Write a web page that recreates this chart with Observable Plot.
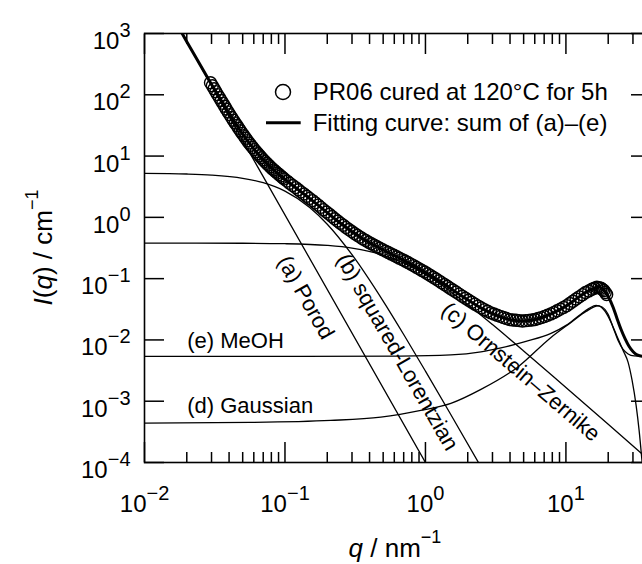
<!DOCTYPE html>
<html><head><meta charset="utf-8">
<script src="https://cdn.jsdelivr.net/npm/d3@7"></script>
<script src="https://cdn.jsdelivr.net/npm/@observablehq/plot@0.6"></script>
<style>
html,body{margin:0;padding:0;overflow:hidden;background:#fff;}
svg{max-width:none!important;display:block;}
</style></head><body>
<div id="chart"></div>
<script>
// ---- data (q in nm^-1, I in cm^-1) ----
const dataQ = [0.0295,0.0304,0.0313,0.0322,0.0331,0.0341,0.0351,0.0361,0.0372,0.0382,0.0394,0.0405,0.0417,0.0429,0.0442,0.0455,0.0468,0.0481,0.0495,0.0510,0.0525,0.0540,0.0556,0.0572,0.0589,0.0606,0.0624,0.0642,0.0661,0.0680,0.0700,0.0720,0.0741,0.0763,0.0785,0.0808,0.0832,0.0856,0.0881,0.0907,0.0933,0.0961,0.0989,0.1035,
  0.108,0.1135,0.119,0.1245,0.130,0.1365,0.143,0.1496,0.157,0.1641,0.172,0.1799,0.188,0.1972,0.207,0.2163,0.226,0.2371,0.248,0.2600,0.272,0.2851,0.299,0.3126,0.327,0.3428,0.359,0.3758,0.394,0.4121,0.432,0.4519,0.473,0.4955,0.519,0.5433,0.569,0.5957,0.624,0.6531,0.684,0.7161,0.750,0.7852,0.822,0.8610,0.902,0.9441,0.989,1.035,1.084,1.135,1.189,1.245,1.303,1.365,1.429,1.496,1.567,1.650,
  1.738,1.830,1.928,2.030,2.138,2.252,2.371,2.498,2.630,2.771,2.917,3.073,3.236,3.407,3.589,3.780,3.981,4.193,4.416,4.651,4.898,5.158,5.433,5.722,6.026,6.346,6.683,7.039,7.413,7.807,8.222,8.660,9.120,9.605,10.12,10.65,11.22,11.82,12.45,13.11,13.80,14.54,15.31,15.94,16.60,17.18,17.78,18.20,18.62,19.05,19.50];
const dataI = [157.1,140.5,125.6,112.4,100.6,90.13,80.75,72.49,65.08,58.48,52.54,47.37,42.70,38.53,34.76,31.49,28.52,25.88,23.49,21.42,19.53,17.85,16.32,15.00,13.78,12.74,11.78,10.91,10.12,9.377,8.694,8.140,7.625,7.139,6.686,6.294,5.925,5.589,5.272,4.990,4.719,4.473,4.240,3.906,
  3.601,3.319,3.061,2.822,2.604,2.401,2.214,2.038,1.877,1.725,1.585,1.455,1.335,1.226,1.125,1.034,0.9502,0.8732,0.8022,0.7416,0.6855,0.6339,0.5864,0.5465,0.5096,0.4763,0.4452,0.4183,0.3930,0.3713,0.3509,0.3318,0.3138,0.2972,0.2814,0.2670,0.2533,0.2402,0.2278,0.2159,0.2046,0.1936,0.1831,0.1728,0.1632,0.1536,0.1445,0.1360,0.1280,0.1200,0.1124,0.1053,0.09865,0.09212,0.08602,0.08027,0.07494,0.06995,0.06531,0.06043,
  0.05591,0.05173,0.04787,0.04443,0.04124,0.03834,0.03565,0.03335,0.03120,0.02939,0.02767,0.02644,0.02526,0.02425,0.02329,0.02236,0.02148,0.02119,0.02091,0.02065,0.02040,0.02062,0.02084,0.02120,0.02156,0.02234,0.02315,0.02416,0.02522,0.02659,0.02802,0.02985,0.03180,0.03396,0.03626,0.03939,0.04281,0.04651,0.05050,0.05480,0.05948,0.06310,0.06696,0.06966,0.07246,0.07107,0.06970,0.06679,0.06400,0.05947,0.05525];

const fitCurve = [[0.0185,1006.5],[0.02,736.4],[0.022,502.7],[0.025,302.2],[0.028,193.0],[0.03,147.3],[0.033,101.9],[0.036,73.14],[0.04,49.46],[0.045,32.49],[0.05,22.77],[0.055,16.83],[0.06,13.04],[0.07,8.685],[0.08,6.409],[0.09,5.051],[0.1,4.150],[0.12,3.009],[0.14,2.297],[0.16,1.807],[0.18,1.454],[0.2,1.194],[0.25,0.7924],[0.3,0.5814],[0.35,0.4605],[0.4,0.3845],[0.5,0.2935],[0.6,0.2383],[0.7,0.1991],[0.8,0.1691],[1,0.1261],[1.2,0.0973],[1.5,0.0697],[2,0.0453],[2.5,0.0331],[3,0.0268],[4,0.0214],[5,0.0203],[6,0.0215],[7,0.0239],[8,0.0271],[10,0.0356],[12,0.0477],[14,0.0608],[16,0.0702],[17,0.0740],[18.4,0.0667],[20,0.0513],[21.7,0.0339],[23.1,0.0224],[24.7,0.0148],[26.4,0.0104],[28.2,0.0078],[30.1,0.0064],[32.1,0.0057],[35.4,0.0054],[40,0.0054]];
const porod = [[0.0185,1000],[1.0,1e-4]];
const sqLorentz = [[0.01,5.218],[0.02,5.095],[0.03,4.899],[0.05,4.343],[0.07,3.671],[0.1,2.676],[0.15,1.450],[0.2,0.7733],[0.3,0.2466],[0.5,0.04308],[0.7,0.01228],[1.0,3.10e-3],[1.5,6.3e-4],[2.4,9.73e-5]];
const ornsteinZernike = [[0.01,0.380],[0.05,0.3779],[0.1,0.3716],[0.2,0.3485],[0.3,0.3158],[0.5,0.2428],[0.7,0.1803],[1,0.1166],[1.5,0.0625],[2,0.0379],[3,0.0178],[5,6.61e-3],[10,1.67e-3],[20,4.2e-4],[40,1.05e-4]];
const gaussian = [[0.01,4.40e-4],[0.0569,4.51e-4],[0.2117,4.86e-4],[0.481,5.51e-4],[0.927,7.08e-4],[1.517,9.21e-4],[2.483,1.556e-3],[4.557,3.63e-3],[7.83,0.01099],[10.87,0.01928],[13.91,0.0292],[16.93,0.0359],[19.0,0.0292],[20.97,0.01928],[23.13,0.0114],[25.53,0.00674],[27.72,0.0043],[29.59,0.00218],[31.6,8.54e-4],[33.19,3.34e-4],[34.87,1.0e-4]];
const meoh = [[0.01,5.38e-3],[0.13,5.38e-3],[0.668,5.45e-3],[1.517,5.69e-3],[2.483,6.37e-3],[3.446,7.40e-3],[5.195,9.46e-3],[7.83,0.01276],[10.02,0.01726],[12.40,0.0251],[14.61,0.0327],[16.39,0.0366],[18.08,0.0345],[19.96,0.0261],[21.66,0.0160],[23.51,0.00982],[25.53,0.0070],[27.72,0.00591],[30.58,0.00548],[35.44,0.00538],[40,0.00538]];

// ---- ticks ----
const xMajor = [0.01, 0.1, 1, 10];
const xExp = ["−2", "−1", "0", "1"];
const xMinor = [0.02,0.03,0.04,0.05,0.06,0.07,0.08,0.09,0.2,0.3,0.4,0.5,0.6,0.7,0.8,0.9,2,3,4,5,6,7,8,9,20,30];
const yMajor = [1e-4, 1e-3, 1e-2, 1e-1, 1, 10, 100, 1000];
const yExp = ["−4", "−3", "−2", "−1", "0", "1", "2", "3"];

const F = "'Liberation Sans', Arial, Helvetica, sans-serif";
const xLab = xMajor.map((v, i) => ({v, e: xExp[i]}));
const yLab = yMajor.map((v, i) => ({v, e: yExp[i]}));
const neg = d => d.e.startsWith("−");
const pos = d => !d.e.startsWith("−");

const pts = arr => arr.map(([q, I]) => ({q, I}));
const dataPts = dataQ.map((q, i) => ({q, I: dataI[i]}));
const thin = {x: "q", y: "I", stroke: "black", strokeWidth: 1.3, curve: "monotone-x", clip: true};
const txt = {fontFamily: F, fill: "black"};

const chart = Plot.plot({
  width: 652, height: 564,
  marginLeft: 144, marginRight: 2, marginTop: 33, marginBottom: 102,
  x: {type: "log", domain: [0.01, 40]},
  y: {type: "log", domain: [1e-4, 1e3]},
  style: {fontFamily: F, background: "white"},
  marks: [
    Plot.line(pts(porod), {...thin, curve: "linear"}),
    Plot.line(pts(sqLorentz), thin),
    Plot.line(pts(ornsteinZernike), thin),
    Plot.line(pts(gaussian), thin),
    Plot.line(pts(meoh), thin),
    Plot.line(pts(fitCurve), {x: "q", y: "I", stroke: "black", strokeWidth: 3, curve: "monotone-x", clip: true}),
    Plot.dot(dataPts, {x: "q", y: "I", r: 6, stroke: "black", strokeWidth: 1.4, fill: "none"}),
    // annotations
    Plot.text([{q: 0.1405, I: 0.0493}], {x: "q", y: "I", text: () => "(a) Porod", rotate: 60.5, fontSize: 22, ...txt}),
    Plot.text([{q: 0.6306, I: 6.32e-3}], {x: "q", y: "I", text: () => "(b) squared-Lorentzian", rotate: 60.2, fontSize: 22, ...txt}),
    Plot.text([{q: 4.77, I: 3.01e-3}], {x: "q", y: "I", text: () => "(c) Ornstein–Zernike", rotate: 40.5, fontSize: 22, ...txt}),
    Plot.text([{q: 0.02015, I: 6.32e-4}], {x: "q", y: "I", text: () => "(d) Gaussian", textAnchor: "start", lineAnchor: "bottom", fontSize: 22, ...txt}),
    Plot.text([{q: 0.02015, I: 7.26e-3}], {x: "q", y: "I", text: () => "(e) MeOH", textAnchor: "start", lineAnchor: "bottom", fontSize: 22, ...txt}),
    // inward ticks
    Plot.axisX(xMajor, {anchor: "bottom", tickSize: -20, strokeWidth: 1.5, tickFormat: () => "", label: null}),
    Plot.axisX(xMinor, {anchor: "bottom", tickSize: -10, strokeWidth: 1.5, tickFormat: () => "", label: null}),
    Plot.axisX(xMajor, {anchor: "top", tickSize: -20, strokeWidth: 1.5, tickFormat: () => "", label: null}),
    Plot.axisX(xMinor, {anchor: "top", tickSize: -10, strokeWidth: 1.5, tickFormat: () => "", label: null}),
    Plot.axisY(yMajor, {anchor: "left", tickSize: -20, strokeWidth: 1.5, tickFormat: () => "", label: null}),
    Plot.axisY(yMajor, {anchor: "right", tickSize: -20, strokeWidth: 1.5, tickFormat: () => "", label: null}),
    // tick labels: base "10" + exponent
    Plot.text(xLab.filter(neg), {x: "v", frameAnchor: "bottom", text: () => "10", textAnchor: "end", lineAnchor: "bottom", dx: 2, dy: 49.7, fontSize: 24, ...txt}),
    Plot.text(xLab.filter(neg), {x: "v", frameAnchor: "bottom", text: "e", textAnchor: "start", lineAnchor: "bottom", dx: 2, dy: 37.7, fontSize: 20, ...txt}),
    Plot.text(xLab.filter(pos), {x: "v", frameAnchor: "bottom", text: () => "10", textAnchor: "end", lineAnchor: "bottom", dx: 7.8, dy: 49.7, fontSize: 24, ...txt}),
    Plot.text(xLab.filter(pos), {x: "v", frameAnchor: "bottom", text: "e", textAnchor: "start", lineAnchor: "bottom", dx: 7.8, dy: 37.7, fontSize: 20, ...txt}),
    Plot.text(yLab.filter(neg), {y: "v", frameAnchor: "left", text: () => "10", textAnchor: "end", lineAnchor: "bottom", dx: -36.8, dy: 15.5, fontSize: 24, ...txt}),
    Plot.text(yLab.filter(neg), {y: "v", frameAnchor: "left", text: "e", textAnchor: "start", lineAnchor: "bottom", dx: -36.8, dy: 3.5, fontSize: 20, ...txt}),
    Plot.text(yLab.filter(pos), {y: "v", frameAnchor: "left", text: () => "10", textAnchor: "end", lineAnchor: "bottom", dx: -25.1, dy: 15.5, fontSize: 24, ...txt}),
    Plot.text(yLab.filter(pos), {y: "v", frameAnchor: "left", text: "e", textAnchor: "start", lineAnchor: "bottom", dx: -25.1, dy: 3.5, fontSize: 20, ...txt}),
    Plot.frame({stroke: "black", strokeWidth: 1.6})
  ]
});
document.getElementById("chart").appendChild(chart);

// ---- axis titles and legend ----
const svg = d3.select(chart);
const g = svg.append("g").attr("font-family", F).attr("fill", "black").attr("text-anchor", "start");
// x title
const xt = g.append("text").attr("x", 395).attr("y", 557).attr("text-anchor", "middle").attr("font-size", 26);
xt.append("tspan").attr("font-style", "italic").text("q");
xt.append("tspan").text(" / nm");
xt.append("tspan").attr("dy", -14).attr("font-size", 18).text("−1");
// y title
const yt = g.append("text").attr("transform", "translate(52,247.5) rotate(-90)").attr("text-anchor", "middle").attr("font-size", 26);
yt.append("tspan").attr("font-style", "italic").text("I");
yt.append("tspan").text("(");
yt.append("tspan").attr("font-style", "italic").text("q");
yt.append("tspan").text(") / cm");
yt.append("tspan").attr("dy", -14).attr("font-size", 18).text("−1");
// legend
g.append("circle").attr("cx", 283).attr("cy", 92).attr("r", 7.5).attr("fill", "white").attr("stroke", "black").attr("stroke-width", 1.5);
g.append("text").attr("x", 312.7).attr("y", 99.5).attr("text-anchor", "start").attr("font-size", 24).text("PR06 cured at 120°C for 5h");
g.append("line").attr("x1", 266).attr("x2", 300.7).attr("y1", 122.7).attr("y2", 122.7).attr("stroke", "black").attr("stroke-width", 3);
g.append("text").attr("x", 312.7).attr("y", 130.5).attr("text-anchor", "start").attr("font-size", 24).text("Fitting curve: sum of (a)–(e)");
</script></body></html>
